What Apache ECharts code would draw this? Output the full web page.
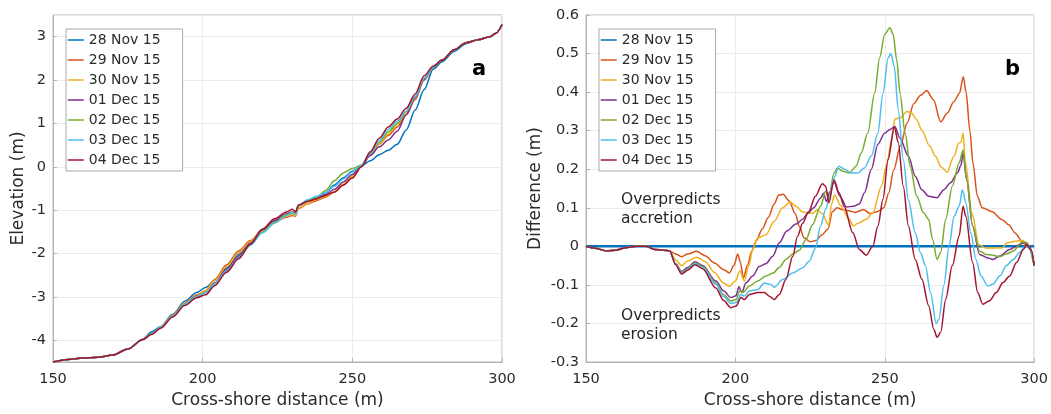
<!DOCTYPE html>
<html>
<head>
<meta charset="utf-8">
<title>Profiles</title>
<script src="https://cdn.jsdelivr.net/npm/echarts@6/dist/echarts.min.js"></script>
<style>html,body{margin:0;padding:0;background:#fff;}</style>
</head>
<body>
<div id="main" style="width:1051px;height:414px;"></div>
<script type="text/javascript">
    // series names and MATLAB default colours
    var dates = ['28 Nov 15', '29 Nov 15', '30 Nov 15', '01 Dec 15', '02 Dec 15', '03 Dec 15', '04 Dec 15'];
    var colors = ['#0072BD', '#D95319', '#EDB120', '#7E2F8E', '#77AC30', '#4DBEEE', '#A2142F'];

    // panel a: cross-shore positions (m)
    var xa = [150, 155, 160, 165, 170, 175, 180, 183, 186, 190, 194, 198, 201, 204, 208, 212, 216, 220, 224, 228,
        230, 231, 232, 235, 238, 241, 244, 247, 250, 253, 256, 259, 262, 265, 268, 271, 274, 277, 280, 284, 288, 292, 296, 298, 300];

    // panel a: elevations (m)
    var elev28Nov = [-4.5, -4.44, -4.41, -4.39, -4.34, -4.2, -3.98, -3.8, -3.68, -3.4, -3.1, -2.9, -2.78, -2.62, -2.32, -2.02, -1.72, -1.44, -1.25, -1.12,
        -1.06, -1.04, -0.9, -0.78, -0.7, -0.6, -0.42, -0.25, -0.1, 0.02, 0.14, 0.28, 0.38, 0.52, 0.85, 1.31, 1.78, 2.25, 2.42, 2.66, 2.84, 2.93, 3.0, 3.08, 3.28];
    var elev29Nov = [-4.5, -4.44, -4.41, -4.39, -4.34, -4.2, -3.98, -3.85, -3.7, -3.42, -3.15, -2.95, -2.86, -2.6, -2.26, -1.94, -1.7, -1.45, -1.28, -1.16,
        -1.12, -1.14, -0.96, -0.86, -0.78, -0.7, -0.58, -0.42, -0.25, 0.0, 0.3, 0.52, 0.72, 0.92, 1.2, 1.55, 2.0, 2.3, 2.46, 2.7, 2.86, 2.93, 3.0, 3.08, 3.28];
    var elev30Nov = [-4.5, -4.44, -4.41, -4.39, -4.34, -4.2, -3.98, -3.85, -3.7, -3.42, -3.14, -2.96, -2.85, -2.62, -2.3, -1.98, -1.72, -1.46, -1.28, -1.14,
        -1.1, -1.12, -0.95, -0.85, -0.76, -0.68, -0.58, -0.4, -0.22, 0.02, 0.3, 0.52, 0.75, 0.98, 1.25, 1.6, 2.02, 2.3, 2.46, 2.7, 2.86, 2.93, 3.0, 3.08, 3.28];
    var elev01Dec = [-4.5, -4.44, -4.41, -4.39, -4.34, -4.2, -3.98, -3.85, -3.7, -3.44, -3.16, -2.98, -2.9, -2.68, -2.36, -2.06, -1.76, -1.45, -1.24, -1.08,
        -1.04, -1.06, -0.9, -0.8, -0.72, -0.64, -0.52, -0.35, -0.18, 0.02, 0.26, 0.46, 0.62, 0.82, 1.2, 1.6, 2.02, 2.3, 2.46, 2.7, 2.86, 2.93, 3.0, 3.08, 3.28];
    var elev02Dec = [-4.5, -4.44, -4.41, -4.39, -4.34, -4.2, -3.98, -3.85, -3.7, -3.44, -3.17, -2.99, -2.9, -2.7, -2.4, -2.1, -1.8, -1.5, -1.28, -1.1,
        -1.05, -1.08, -0.9, -0.78, -0.7, -0.55, -0.32, -0.14, -0.04, 0.04, 0.3, 0.56, 0.8, 1.0, 1.28, 1.62, 2.04, 2.3, 2.46, 2.7, 2.86, 2.93, 3.0, 3.08, 3.28];
    var elev03Dec = [-4.5, -4.44, -4.41, -4.39, -4.34, -4.2, -3.98, -3.85, -3.7, -3.44, -3.17, -2.99, -2.9, -2.7, -2.4, -2.1, -1.8, -1.52, -1.3, -1.12,
        -1.06, -1.1, -0.9, -0.76, -0.68, -0.6, -0.45, -0.28, -0.12, 0.03, 0.32, 0.6, 0.86, 1.05, 1.28, 1.62, 2.04, 2.3, 2.46, 2.7, 2.86, 2.93, 3.0, 3.08, 3.28];
    var elev04Dec = [-4.5, -4.44, -4.41, -4.39, -4.34, -4.2, -3.98, -3.86, -3.72, -3.46, -3.2, -3.02, -2.95, -2.74, -2.43, -2.12, -1.78, -1.44, -1.2, -1.04,
        -0.98, -1.04, -0.88, -0.8, -0.74, -0.66, -0.58, -0.42, -0.26, 0.0, 0.35, 0.66, 0.92, 1.1, 1.35, 1.68, 2.1, 2.32, 2.46, 2.7, 2.86, 2.93, 3.0, 3.08, 3.28];

    // panel b: difference (m), [x, value]
    var startB = [[150, 0], [153, -0.005], [157, -0.012], [160, -0.01], [163, -0.004], [167, 0], [170, 0], [173, -0.008], [176, -0.01], [178, -0.012]];
    var diff28Nov = [[150, 0], [300, 0]];
    var diff29Nov = [[180, -0.02], [182, -0.027], [184, -0.02], [187, -0.013], [190, -0.025], [193, -0.043], [196, -0.06], [198, -0.069], [199.5, -0.05],
        [200.8, -0.02], [201.6, -0.04], [202.7, -0.082], [204, -0.05], [205.5, -0.012], [207, 0.015], [209, 0.045], [211, 0.075], [213, 0.11], [214.5, 0.133],
        [216, 0.135], [218, 0.118], [220, 0.085], [221.5, 0.05], [223, 0.022], [225, 0.012], [227, 0.015], [229, 0.03], [231, 0.045], [232.5, 0.09],
        [234, 0.1], [236, 0.095], [238, 0.092], [240, 0.088], [243, 0.095], [245, 0.085], [247.5, 0.09], [249.7, 0.1], [251.3, 0.138], [253, 0.198],
        [255.2, 0.26], [257.5, 0.32], [259.7, 0.37], [262, 0.392], [264, 0.404], [266.3, 0.38], [268.7, 0.323], [270.9, 0.345], [273.1, 0.375],
        [275, 0.397], [276.3, 0.44], [277.2, 0.4], [278.5, 0.3], [279.5, 0.216], [281, 0.13], [282.6, 0.1], [285.9, 0.09], [289.3, 0.069],
        [291.5, 0.056], [293.7, 0.034], [296, 0.012], [297.6, 0.002], [299, -0.01], [300, -0.05]];
    var diff30Nov = [[180, -0.035], [182, -0.05], [184, -0.038], [187, -0.028], [190, -0.04], [193, -0.068], [196, -0.095], [198, -0.104], [200, -0.09],
        [201.5, -0.064], [203, -0.09], [204.5, -0.05], [205.8, -0.008], [207.5, 0.022], [210.2, 0.03], [213, 0.065], [215.8, 0.1], [218.3, 0.115],
        [220.3, 0.104], [222.5, 0.089], [225.8, 0.085], [227.4, 0.095], [229, 0.085], [231.2, 0.055], [232.2, 0.11], [233.2, 0.133], [235.3, 0.105],
        [238.1, 0.07], [239.5, 0.053], [241, 0.06], [243.8, 0.07], [246, 0.087], [248.9, 0.156], [250.6, 0.21], [252.3, 0.277], [253.4, 0.33],
        [255.1, 0.333], [257.4, 0.35], [259, 0.346], [260.5, 0.33], [262.5, 0.3], [265, 0.26], [267, 0.233], [269, 0.205], [270.9, 0.192],
        [273.1, 0.233], [274.8, 0.268], [275.5, 0.27], [276.2, 0.294], [277, 0.216], [279.2, 0.086], [281.5, 0.004], [283.7, -0.004], [287, -0.004],
        [289.3, -0.004], [290.9, 0.009], [293.7, 0.013], [296, 0.016], [298, 0.005], [300, -0.05]];
    var diff01Dec = [[180, -0.045], [182, -0.065], [184, -0.055], [186.5, -0.04], [189, -0.05], [193.5, -0.09], [196, -0.115], [198.5, -0.133],
        [200.2, -0.128], [201.2, -0.105], [202.2, -0.12], [203.5, -0.095], [205.8, -0.077], [208, -0.052], [210.2, -0.045], [212.5, -0.026],
        [214.7, 0.009], [217.2, 0.04], [220.3, 0.058], [222.5, 0.07], [224.2, 0.085], [226.2, 0.1], [228.5, 0.125], [229.5, 0.138], [230.5, 0.116],
        [231.5, 0.14], [233, 0.166], [235, 0.13], [237.2, 0.102], [239.5, 0.104], [241.5, 0.11], [243.2, 0.139], [245.5, 0.2], [247.7, 0.265],
        [250, 0.294], [251.7, 0.303], [253.4, 0.311], [255.1, 0.28], [257.9, 0.234], [260.2, 0.182], [262.4, 0.147], [264.7, 0.13], [267.5, 0.126],
        [269.8, 0.147], [272, 0.165], [274.3, 0.19], [275.5, 0.21], [276.2, 0.242], [277.4, 0.173], [279.4, 0.053], [281.7, -0.021], [284.5, -0.03],
        [286.2, -0.034], [288.5, -0.025], [291.8, -0.008], [295.2, 0.005], [297, 0.01], [298.5, 0.0], [300, -0.05]];
    var diff02Dec = [[180, -0.045], [182, -0.068], [184, -0.058], [186.5, -0.043], [189, -0.052], [193.5, -0.095], [196, -0.125], [198.5, -0.142],
        [200.2, -0.138], [201.5, -0.115], [202.5, -0.12], [204.7, -0.103], [207.5, -0.09], [210.2, -0.077], [212.5, -0.07], [214.7, -0.055],
        [216.9, -0.034], [219.2, -0.02], [221.4, -0.01], [223.6, 0.017], [225.8, 0.056], [228.5, 0.104], [230.2, 0.143], [231.3, 0.125], [233, 0.19],
        [234.2, 0.203], [235.9, 0.195], [238.1, 0.19], [240.4, 0.208], [242.1, 0.242], [244.3, 0.294], [246.6, 0.397], [248.3, 0.49], [250, 0.55],
        [251.7, 0.567], [252.8, 0.55], [254, 0.483], [255.1, 0.397], [256.8, 0.294], [258.5, 0.208], [260.7, 0.13], [263, 0.087], [264.7, 0.07],
        [266, 0.018], [267.5, -0.034], [268.7, -0.016], [270.4, 0.07], [272.6, 0.156], [274.9, 0.216], [276.2, 0.25], [277.4, 0.173], [279.4, 0.053],
        [281.7, -0.012], [283.9, -0.021], [286.2, -0.023], [288.5, -0.027], [290.7, -0.02], [293, -0.012], [295.8, 0.01], [297.5, 0.01], [300, -0.05]];
    var diff03Dec = [[180, -0.045], [182, -0.07], [184, -0.06], [186.5, -0.045], [189, -0.055], [193.5, -0.098], [196, -0.13], [198.5, -0.148],
        [200.2, -0.146], [201.9, -0.125], [203, -0.129], [204.7, -0.116], [207.5, -0.112], [209.7, -0.095], [211.9, -0.099], [213, -0.106],
        [215.8, -0.086], [219.2, -0.069], [222.5, -0.056], [224.7, -0.039], [226.8, -0.005], [228.5, 0.053], [230.2, 0.096], [231.3, 0.12],
        [233, 0.178], [234.7, 0.208], [236.5, 0.2], [238.7, 0.19], [241, 0.19], [243.2, 0.203], [245.5, 0.234], [247.7, 0.294], [249.4, 0.397],
        [251.1, 0.488], [252, 0.5], [253.2, 0.466], [254.5, 0.354], [256.2, 0.225], [257.9, 0.12], [260.2, 0.035], [261.9, -0.016], [263.6, -0.05],
        [265.3, -0.12], [267.2, -0.2], [268.1, -0.19], [269.8, -0.1], [271.5, 0.0], [273.2, 0.078], [274.9, 0.104], [276, 0.147], [277.1, 0.113],
        [278.8, 0.035], [280.5, -0.034], [282.2, -0.077], [284.5, -0.103], [286.2, -0.098], [288.5, -0.077], [290.7, -0.05], [293, -0.034],
        [295.2, -0.016], [296.9, 0.0], [298.5, -0.005], [300, -0.05]];
    var diff04Dec = [[180, -0.048], [182, -0.072], [184, -0.062], [186.5, -0.048], [189, -0.058], [193.5, -0.108], [196, -0.14], [198.5, -0.159],
        [200.2, -0.155], [201.9, -0.133], [203, -0.138], [204.7, -0.125], [207.5, -0.12], [209.7, -0.12], [211.5, -0.13], [213, -0.138],
        [214.7, -0.125], [216.9, -0.086], [219.2, -0.026], [220.8, 0.026], [222.5, 0.06], [224.5, 0.09], [226.8, 0.13], [229.1, 0.162],
        [230.2, 0.156], [231.3, 0.113], [233, 0.173], [234.7, 0.139], [236.4, 0.104], [239.3, 0.035], [241.5, -0.008], [243.8, -0.023], [246, 0.0],
        [247.7, 0.053], [249.4, 0.122], [251.1, 0.225], [253.2, 0.31], [254.5, 0.27], [256.2, 0.156], [257.9, 0.053], [260.2, -0.034],
        [262.4, -0.085], [264.7, -0.154], [266.4, -0.215], [267.5, -0.236], [268.7, -0.223], [270.4, -0.137], [272.6, -0.05], [274.9, 0.027],
        [276.2, 0.104], [277.1, 0.078], [279.4, -0.042], [281.1, -0.12], [282.8, -0.15], [285.1, -0.141], [287.3, -0.12], [289.6, -0.094],
        [291.8, -0.077], [294.1, -0.042], [296.4, -0.008], [297.5, 0.005], [299, -0.01], [300, -0.05]];

    var elevSets = [elev28Nov, elev29Nov, elev30Nov, elev01Dec, elev02Dec, elev03Dec, elev04Dec];
    var diffSets = [diff28Nov, diff29Nov, diff30Nov, diff01Dec, diff02Dec, diff03Dec, diff04Dec];

    var font = 'DejaVu Sans';
    var txt = '#2b2b2b';
    var boxColor = '#b4b4b4';

    function axisX(idx) {
        return {
            type: 'value', gridIndex: idx, min: 150, max: 300, interval: 50,
            name: 'Cross-shore distance (m)', nameLocation: 'middle', nameGap: 30,
            nameTextStyle: {fontFamily: font, fontSize: 17, color: txt},
            axisLine: {onZero: false, lineStyle: {color: boxColor}},
            axisTick: {inside: true, length: 4, lineStyle: {color: boxColor}},
            axisLabel: {fontFamily: font, fontSize: 14.5, color: txt, margin: 10},
            splitLine: {show: true, lineStyle: {color: '#ebebeb'}}
        };
    }

    var series = [];
    dates.forEach(function (d, i) {
        series.push({
            name: d, type: 'line', xAxisIndex: 0, yAxisIndex: 0,
            data: xa.map(function (x, k) { return [x, elevSets[i][k]]; }),
            showSymbol: false, symbol: 'none', smooth: 0.3, smoothMonotone: 'x',
            lineStyle: {width: 1.5, color: colors[i]}, itemStyle: {color: colors[i]},
            animation: false
        });
    });
    dates.forEach(function (d, i) {
        var pts = i === 0 ? diffSets[0] : startB.concat(diffSets[i]);
        series.push({
            name: d, type: 'line', xAxisIndex: 1, yAxisIndex: 1,
            data: pts,
            showSymbol: false, symbol: 'none', smooth: 0.3, smoothMonotone: 'x',
            lineStyle: {width: i === 0 ? 2.5 : 1.5, color: colors[i]}, itemStyle: {color: colors[i]},
            animation: false
        });
    });

    function legendAt(left) {
        return {
            data: dates, orient: 'vertical', left: left, top: 29,
            padding: [4, 22, 4, 1], itemGap: 6, itemWidth: 16, itemHeight: 14,
            backgroundColor: '#ffffff', borderColor: '#a8a8a8', borderWidth: 1,
            itemStyle: {opacity: 0},
            lineStyle: {width: 1.5},
            textStyle: {fontFamily: font, fontSize: 14, color: txt},
            selectedMode: false
        };
    }

    var myChart = echarts.init(document.getElementById('main'));
    var option = {
        backgroundColor: '#ffffff',
        animation: false,
        title: [
            {text: 'a', left: 467, top: 54, textStyle: {fontFamily: font, fontSize: 21, fontWeight: 'bold', color: '#000'}},
            {text: 'b', left: 1000, top: 54, textStyle: {fontFamily: font, fontSize: 21, fontWeight: 'bold', color: '#000'}},
            {text: 'Overpredicts\naccretion', left: 616, top: 185,
                textStyle: {fontFamily: font, fontSize: 15.5, fontWeight: 'normal', lineHeight: 19, color: '#262626'}},
            {text: 'Overpredicts\nerosion', left: 616, top: 301,
                textStyle: {fontFamily: font, fontSize: 15.5, fontWeight: 'normal', lineHeight: 19, color: '#262626'}}
        ],
        legend: [legendAt(66), legendAt(599)],
        grid: [
            {left: 53, top: 15, width: 449, height: 348, show: true, borderColor: boxColor, borderWidth: 1, backgroundColor: 'transparent'},
            {left: 586, top: 15, width: 449, height: 348, show: true, borderColor: boxColor, borderWidth: 1, backgroundColor: 'transparent'}
        ],
        xAxis: [axisX(0), axisX(1)],
        yAxis: [
            {
                type: 'value', gridIndex: 0, min: -4.5, max: 3.5, splitNumber: 8,
                name: 'Elevation (m)', nameLocation: 'middle', nameGap: 26,
                nameTextStyle: {fontFamily: font, fontSize: 17, color: txt},
                axisLine: {lineStyle: {color: boxColor}},
                axisTick: {inside: true, length: 4, lineStyle: {color: boxColor}},
                axisLabel: {fontFamily: font, fontSize: 14.5, color: txt, margin: 7, showMinLabel: false, showMaxLabel: false},
                splitLine: {show: true, lineStyle: {color: '#ebebeb'}}
            },
            {
                type: 'value', gridIndex: 1, min: -0.3, max: 0.6, interval: 0.1,
                name: 'Difference (m)', nameLocation: 'middle', nameGap: 42,
                nameTextStyle: {fontFamily: font, fontSize: 17, color: txt},
                axisLine: {lineStyle: {color: boxColor}},
                axisTick: {inside: true, length: 4, lineStyle: {color: boxColor}},
                axisLabel: {
                    fontFamily: font, fontSize: 14.5, color: txt, margin: 7,
                    formatter: function (v) { return String(parseFloat(v.toFixed(1))); }
                },
                splitLine: {show: true, lineStyle: {color: '#ebebeb'}}
            }
        ],
        series: series
    };
    myChart.setOption(option);
</script>
</body>
</html>
